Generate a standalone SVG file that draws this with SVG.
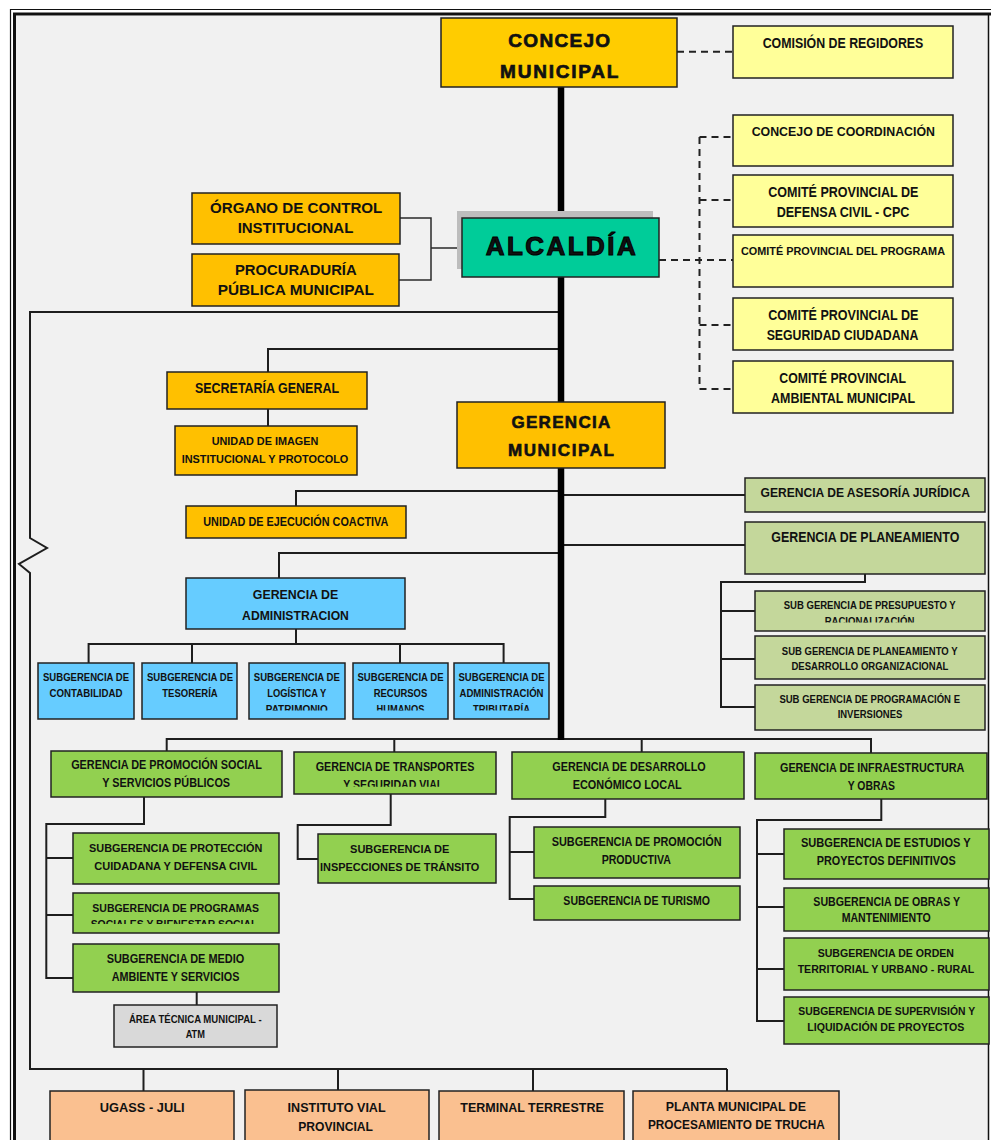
<svg xmlns="http://www.w3.org/2000/svg" width="991" height="1140" viewBox="0 0 991 1140">
<style>
text{font-family:"Liberation Sans",Arial,sans-serif;font-weight:bold;fill:#111;text-anchor:middle}
.bx{stroke:#222;stroke-width:1.5}
.ln{fill:none;stroke:#1e1e1e;stroke-width:2}
.lt{fill:none;stroke:#2a2a2a;stroke-width:1.5}
.ds{fill:none;stroke:#222;stroke-width:2;stroke-dasharray:7 5}
.big{font-size:19px;stroke:#111;stroke-width:0.7}
.gm{font-size:17px;stroke:#111;stroke-width:0.6}
.alc{font-size:26px;stroke:#000;stroke-width:1}
.f15{font-size:15px}
.f14{font-size:14px}
.f135{font-size:13.5px}
.f13{font-size:13px}
.f125{font-size:12.5px}
.f12{font-size:12px}
.f115{font-size:11.5px}
.f11{font-size:11px}
.f10{font-size:10px}
.gold{fill:#FFC000}
.yel{fill:#FFFF99}
.olv{fill:#C4D79B}
.blu{fill:#66CCFF}
.grn{fill:#92D050}
.pch{fill:#FAC090}
</style>
<defs>
<clipPath id="c1"><rect x="755" y="591" width="230" height="31.5"/></clipPath>
<clipPath id="c2"><rect x="30" y="663" width="530" height="47.5"/></clipPath>
<clipPath id="c3"><rect x="294" y="752" width="202" height="34.7"/></clipPath>
<clipPath id="c4"><rect x="73" y="893" width="206" height="31"/></clipPath>
</defs>
<rect width="991" height="1140" fill="#ffffff"/>
<rect x="16" y="16" width="973" height="1124" fill="#F1F1F1"/>
<g id="frame" fill="none" stroke="#111">
<path d="M10.5,1140 V9.5 H991" stroke-width="1.2"/>
<path d="M14.5,1140 V14 H991" stroke-width="3"/>
<path d="M988.5,15 V1140" stroke-width="1.5"/>
</g>

<g id="connectors">
<path class="ds" d="M677,51.7 H733"/>
<path class="ds" d="M659,260 H733 M699.5,137 V389 M699.5,137 H733 M699.5,200 H733 M699.5,325 H733 M699.5,389 H733"/>
<path class="lt" d="M400,218 H431 V280 H399 M431,248 H462"/>
<path class="ln" d="M561,312 H30 V538 L47,548 L19,564 L30,573 V1069 H727 M143.5,1069 V1091 M338,1069 V1090 M533,1069 V1091 M727,1069 V1091"/>
<path class="ln" d="M561,349 H268 V372 M268,409 V426"/>
<path class="ln" d="M561,491 H296 V506"/>
<path class="ln" d="M561,553 H279 V578 M296,629 V644 M88.6,663 V644 H503.6 V663 M192,644 V663 M400,644 V663"/>
<path class="ln" d="M561,495 H745 M561,545 H745 M865,574 V582 H721 V707 H755 M721,611 H755 M721,659 H755"/>
<path class="ln" d="M166.7,751 V739 H871 V753 M394.3,739 V752 M641.7,739 V752"/>
<path class="ln" d="M144,797 V824 H46.3 V978 H73 M46.3,858 H73 M46.3,915 H73 M196.7,992 V1005"/>
<path class="ln" d="M390.7,794 V825 H297.7 V859 H318"/>
<path class="ln" d="M605.3,799 V817 H509.7 V899 H534 M509.7,852 H534"/>
<path class="ln" d="M881.3,799 V820 H757 V1021 H784 M757,854 H784 M757,907 H784 M757,969 H784"/>
<path d="M561,87 V740" stroke="#000" stroke-width="6.5" fill="none"/>
</g>

<g id="concejo-municipal">
<rect class="bx" x="441" y="18" width="236" height="69" fill="#FFCC00"/>
<text class="big" x="559.2" y="47" textLength="101.7">CONCEJO</text>
<text class="big" x="559.2" y="77.7" textLength="118.3">MUNICIPAL</text>
</g>
<g id="comision-regidores">
<rect class="bx yel" x="733" y="26" width="220" height="52"/>
<text class="f14" x="843" y="48" textLength="160.7" lengthAdjust="spacingAndGlyphs">COMISIÓN DE REGIDORES</text>
</g>
<g id="concejo-coordinacion">
<rect class="bx yel" x="733" y="115" width="220" height="51"/>
<text class="f135" x="843.3" y="136" textLength="183.3" lengthAdjust="spacingAndGlyphs">CONCEJO DE COORDINACIÓN</text>
</g>
<g id="comite-defensa-civil">
<rect class="bx yel" x="733" y="175" width="220" height="52"/>
<text class="f14" x="843.3" y="196.7" textLength="150" lengthAdjust="spacingAndGlyphs">COMITÉ PROVINCIAL DE</text>
<text class="f14" x="843" y="216.7" textLength="132.7" lengthAdjust="spacingAndGlyphs">DEFENSA CIVIL - CPC</text>
</g>
<g id="comite-programa">
<rect class="bx yel" x="733" y="235" width="220" height="52"/>
<text class="f11" style="font-size:11.3px" x="843" y="255" textLength="204" lengthAdjust="spacingAndGlyphs">COMITÉ PROVINCIAL DEL PROGRAMA</text>
</g>
<g id="comite-seguridad">
<rect class="bx yel" x="733" y="298" width="220" height="52"/>
<text class="f14" x="843.3" y="320" textLength="150" lengthAdjust="spacingAndGlyphs">COMITÉ PROVINCIAL DE</text>
<text class="f14" x="842.5" y="340" textLength="151.7" lengthAdjust="spacingAndGlyphs">SEGURIDAD CIUDADANA</text>
</g>
<g id="comite-ambiental">
<rect class="bx yel" x="733" y="361" width="220" height="52"/>
<text class="f14" x="842.7" y="383" textLength="126.7" lengthAdjust="spacingAndGlyphs">COMITÉ PROVINCIAL</text>
<text class="f14" x="843" y="403" textLength="144" lengthAdjust="spacingAndGlyphs">AMBIENTAL MUNICIPAL</text>
</g>

<g id="organo-control">
<rect class="bx gold" x="192" y="193" width="208" height="51"/>
<text class="f15" x="296.2" y="213.3" textLength="172.3" lengthAdjust="spacingAndGlyphs">ÓRGANO DE CONTROL</text>
<text class="f15" x="295.5" y="233.3" textLength="115.7" lengthAdjust="spacingAndGlyphs">INSTITUCIONAL</text>
</g>
<g id="procuraduria">
<rect class="bx gold" x="192" y="254" width="207" height="52"/>
<text class="f15" x="295.8" y="275" textLength="121.7" lengthAdjust="spacingAndGlyphs">PROCURADURÍA</text>
<text class="f15" x="295.8" y="295" textLength="156.3" lengthAdjust="spacingAndGlyphs">PÚBLICA MUNICIPAL</text>
</g>
<g id="alcaldia">
<rect x="457" y="211" width="196" height="58" fill="#BDBDBD"/>
<rect class="bx" x="462" y="218" width="197" height="59" fill="#00CC99"/>
<text class="alc" x="560.8" y="255" textLength="150">ALCALDÍA</text>
</g>

<g id="secretaria-general">
<rect class="bx gold" x="167" y="372" width="200" height="37"/>
<text class="f14" x="267" y="393.3" textLength="144" lengthAdjust="spacingAndGlyphs">SECRETARÍA GENERAL</text>
</g>
<g id="unidad-imagen">
<rect class="bx gold" x="175" y="426" width="182" height="49"/>
<text class="f115" x="265" y="445" textLength="106.7" lengthAdjust="spacingAndGlyphs">UNIDAD DE IMAGEN</text>
<text class="f115" x="265" y="462.7" textLength="166.7" lengthAdjust="spacingAndGlyphs">INSTITUCIONAL Y PROTOCOLO</text>
</g>
<g id="unidad-ejecucion">
<rect class="bx gold" x="186" y="506" width="220" height="32"/>
<text class="f12" x="295.8" y="525.7" textLength="185" lengthAdjust="spacingAndGlyphs">UNIDAD DE EJECUCIÓN COACTIVA</text>
</g>
<g id="gerencia-municipal">
<rect class="bx gold" x="457" y="402" width="208" height="66"/>
<text class="gm" x="560.9" y="428.3" textLength="99">GERENCIA</text>
<text class="gm" x="560.9" y="456" textLength="106">MUNICIPAL</text>
</g>

<g id="gerencia-asesoria">
<rect class="bx olv" x="745" y="478" width="240" height="34"/>
<text class="f13" x="865.2" y="497.3" textLength="209.4" lengthAdjust="spacingAndGlyphs">GERENCIA DE ASESORÍA JURÍDICA</text>
</g>
<g id="gerencia-planeamiento">
<rect class="bx olv" x="745" y="522" width="240" height="52"/>
<text class="f14" x="865.3" y="542.3" textLength="188" lengthAdjust="spacingAndGlyphs">GERENCIA DE PLANEAMIENTO</text>
</g>
<g id="sub-presupuesto">
<rect class="bx olv" x="755" y="591" width="230" height="40"/>
<text class="f115" x="869.7" y="609.3" textLength="172" lengthAdjust="spacingAndGlyphs">SUB GERENCIA DE PRESUPUESTO Y</text>
<text class="f115" x="869.5" y="624.5" textLength="89.6" lengthAdjust="spacingAndGlyphs" clip-path="url(#c1)">RACIONALIZACIÓN</text>
</g>
<g id="sub-planeamiento">
<rect class="bx olv" x="755" y="636" width="230" height="43"/>
<text class="f11" x="869.7" y="655" textLength="175.7" lengthAdjust="spacingAndGlyphs">SUB GERENCIA DE PLANEAMIENTO Y</text>
<text class="f115" x="869.9" y="670" textLength="157" lengthAdjust="spacingAndGlyphs">DESARROLLO ORGANIZACIONAL</text>
</g>
<g id="sub-programacion">
<rect class="bx olv" x="755" y="685" width="230" height="45"/>
<text class="f11" x="869.7" y="703.3" textLength="180.6" lengthAdjust="spacingAndGlyphs">SUB GERENCIA DE PROGRAMACIÓN E</text>
<text class="f115" x="870" y="718.3" textLength="64.7" lengthAdjust="spacingAndGlyphs">INVERSIONES</text>
</g>

<g id="gerencia-administracion">
<rect class="bx blu" x="186" y="578" width="219" height="51"/>
<text class="f13" x="295.5" y="599.3" textLength="85.4" lengthAdjust="spacingAndGlyphs">GERENCIA DE</text>
<text class="f13" x="295.5" y="620" textLength="106.8" lengthAdjust="spacingAndGlyphs">ADMINISTRACION</text>
</g>
<g id="sub-contabilidad">
<rect class="bx blu" x="38" y="663" width="96" height="56"/>
<text class="f10" x="86" y="681" textLength="86" lengthAdjust="spacingAndGlyphs">SUBGERENCIA DE</text>
<text class="f10" x="86" y="696.7" textLength="72.9" lengthAdjust="spacingAndGlyphs">CONTABILIDAD</text>
</g>
<g id="sub-tesoreria">
<rect class="bx blu" x="142" y="663" width="95" height="56"/>
<text class="f10" x="190" y="681" textLength="86" lengthAdjust="spacingAndGlyphs">SUBGERENCIA DE</text>
<text class="f10" x="190" y="696.7" textLength="55.4" lengthAdjust="spacingAndGlyphs">TESORERÍA</text>
</g>
<g id="sub-logistica">
<rect class="bx blu" x="249" y="663" width="96" height="56"/>
<text class="f10" x="296.8" y="681" textLength="86" lengthAdjust="spacingAndGlyphs">SUBGERENCIA DE</text>
<text class="f10" x="296.8" y="696.7" textLength="59" lengthAdjust="spacingAndGlyphs">LOGÍSTICA Y</text>
<text class="f10" x="296.8" y="713" textLength="62" lengthAdjust="spacingAndGlyphs" clip-path="url(#c2)">PATRIMONIO</text>
</g>
<g id="sub-recursos-humanos">
<rect class="bx blu" x="353" y="663" width="95" height="56"/>
<text class="f10" x="400.5" y="681" textLength="86" lengthAdjust="spacingAndGlyphs">SUBGERENCIA DE</text>
<text class="f10" x="400.5" y="696.7" textLength="53.6" lengthAdjust="spacingAndGlyphs">RECURSOS</text>
<text class="f10" x="400.5" y="713" textLength="48" lengthAdjust="spacingAndGlyphs" clip-path="url(#c2)">HUMANOS</text>
</g>
<g id="sub-administracion-tributaria">
<rect class="bx blu" x="454" y="663" width="95" height="56"/>
<text class="f10" x="501.5" y="681" textLength="86" lengthAdjust="spacingAndGlyphs">SUBGERENCIA DE</text>
<text class="f10" x="501.5" y="696.7" textLength="84" lengthAdjust="spacingAndGlyphs">ADMINISTRACIÓN</text>
<text class="f10" x="501.5" y="713" textLength="57" lengthAdjust="spacingAndGlyphs" clip-path="url(#c2)">TRIBUTARÍA</text>
</g>

<g id="gerencia-promocion-social">
<rect class="bx grn" x="51" y="751" width="231" height="46"/>
<text class="f12" x="166.5" y="769.3" textLength="190.7" lengthAdjust="spacingAndGlyphs">GERENCIA DE PROMOCIÓN SOCIAL</text>
<text class="f12" x="166.2" y="787.3" textLength="127.7" lengthAdjust="spacingAndGlyphs">Y SERVICIOS PÚBLICOS</text>
</g>
<g id="sub-proteccion">
<rect class="bx grn" x="73" y="833" width="206" height="51"/>
<text class="f115" x="175.7" y="852.3" textLength="173.3" lengthAdjust="spacingAndGlyphs">SUBGERENCIA DE PROTECCIÓN</text>
<text class="f115" x="175.8" y="870" textLength="163" lengthAdjust="spacingAndGlyphs">CUIDADANA Y DEFENSA CIVIL</text>
</g>
<g id="sub-programas-sociales">
<rect class="bx grn" x="73" y="893" width="206" height="40"/>
<text class="f115" x="175.7" y="911.7" textLength="166.7" lengthAdjust="spacingAndGlyphs">SUBGERENCIA DE PROGRAMAS</text>
<text class="f115" x="174" y="928" textLength="166.7" lengthAdjust="spacingAndGlyphs" clip-path="url(#c4)">SOCIALES Y BIENESTAR SOCIAL</text>
</g>
<g id="sub-medio-ambiente">
<rect class="bx grn" x="73" y="944" width="206" height="48"/>
<text class="f12" x="175.5" y="963.3" textLength="137.7" lengthAdjust="spacingAndGlyphs">SUBGERENCIA DE MEDIO</text>
<text class="f12" x="175.5" y="980.7" textLength="127.7" lengthAdjust="spacingAndGlyphs">AMBIENTE Y SERVICIOS</text>
</g>
<g id="area-tecnica">
<rect class="bx" x="114" y="1005" width="163" height="42" fill="#D9D9D9"/>
<text class="f11" x="195.3" y="1022.7" textLength="132.7" lengthAdjust="spacingAndGlyphs">ÁREA TÉCNICA MUNICIPAL -</text>
<text class="f11" x="195.3" y="1038.3" textLength="19.3" lengthAdjust="spacingAndGlyphs">ATM</text>
</g>

<g id="gerencia-transportes">
<rect class="bx grn" x="294" y="752" width="202" height="42"/>
<text class="f12" x="395" y="770.7" textLength="158.7" lengthAdjust="spacingAndGlyphs">GERENCIA DE TRANSPORTES</text>
<text class="f12" x="393.3" y="789" textLength="100" lengthAdjust="spacingAndGlyphs" clip-path="url(#c3)">Y SEGURIDAD VIAL</text>
</g>
<g id="sub-inspecciones">
<rect class="bx grn" x="318" y="834" width="178" height="49"/>
<text class="f115" x="399.7" y="852.7" textLength="99.3" lengthAdjust="spacingAndGlyphs">SUBGERENCIA DE</text>
<text class="f115" x="399.7" y="870.7" textLength="159.3" lengthAdjust="spacingAndGlyphs">INSPECCIONES DE TRÁNSITO</text>
</g>

<g id="gerencia-desarrollo">
<rect class="bx grn" x="512" y="752" width="232" height="47"/>
<text class="f12" x="629" y="771" textLength="153.3" lengthAdjust="spacingAndGlyphs">GERENCIA DE DESARROLLO</text>
<text class="f12" x="627.2" y="789" textLength="109" lengthAdjust="spacingAndGlyphs">ECONÓMICO LOCAL</text>
</g>
<g id="sub-promocion-productiva">
<rect class="bx grn" x="534" y="827" width="206" height="51"/>
<text class="f12" x="636.7" y="846.3" textLength="170" lengthAdjust="spacingAndGlyphs">SUBGERENCIA DE PROMOCIÓN</text>
<text class="f12" x="636.3" y="864" textLength="69.3" lengthAdjust="spacingAndGlyphs">PRODUCTIVA</text>
</g>
<g id="sub-turismo">
<rect class="bx grn" x="534" y="886" width="206" height="34"/>
<text class="f12" x="636.7" y="905" textLength="146.7" lengthAdjust="spacingAndGlyphs">SUBGERENCIA DE TURISMO</text>
</g>

<g id="gerencia-infraestructura">
<rect class="bx grn" x="755" y="753" width="232" height="46"/>
<text class="f12" x="872.2" y="772" textLength="184.3" lengthAdjust="spacingAndGlyphs">GERENCIA DE INFRAESTRUCTURA</text>
<text class="f12" x="871.3" y="790" textLength="47.3" lengthAdjust="spacingAndGlyphs">Y OBRAS</text>
</g>
<g id="sub-estudios">
<rect class="bx grn" x="784" y="829" width="205" height="50"/>
<text class="f12" x="885.8" y="847.3" textLength="169.7" lengthAdjust="spacingAndGlyphs">SUBGERENCIA DE ESTUDIOS Y</text>
<text class="f12" x="886.2" y="865" textLength="139" lengthAdjust="spacingAndGlyphs">PROYECTOS DEFINITIVOS</text>
</g>
<g id="sub-obras">
<rect class="bx grn" x="784" y="888" width="205" height="43"/>
<text class="f12" x="886.7" y="905.7" textLength="146.7" lengthAdjust="spacingAndGlyphs">SUBGERENCIA DE OBRAS Y</text>
<text class="f12" x="886.2" y="921.7" textLength="89" lengthAdjust="spacingAndGlyphs">MANTENIMIENTO</text>
</g>
<g id="sub-orden">
<rect class="bx grn" x="784" y="938" width="205" height="52"/>
<text class="f11" x="885.8" y="956.7" textLength="136.3" lengthAdjust="spacingAndGlyphs">SUBGERENCIA DE ORDEN</text>
<text class="f11" x="886" y="973.3" textLength="176.7" lengthAdjust="spacingAndGlyphs">TERRITORIAL Y URBANO - RURAL</text>
</g>
<g id="sub-supervision">
<rect class="bx grn" x="784" y="997" width="205" height="47"/>
<text class="f11" x="886.7" y="1015" textLength="176.7" lengthAdjust="spacingAndGlyphs">SUBGERENCIA DE SUPERVISIÓN Y</text>
<text class="f11" x="885.8" y="1031" textLength="157" lengthAdjust="spacingAndGlyphs">LIQUIDACIÓN DE PROYECTOS</text>
</g>

<g id="ugass-juli">
<rect class="bx pch" x="50" y="1091" width="184" height="60"/>
<text class="f13" x="142.2" y="1111.7" textLength="84.7" lengthAdjust="spacingAndGlyphs">UGASS - JULI</text>
</g>
<g id="instituto-vial">
<rect class="bx pch" x="245" y="1090" width="184" height="60"/>
<text class="f13" x="336.6" y="1111.7" textLength="98" lengthAdjust="spacingAndGlyphs">INSTITUTO VIAL</text>
<text class="f13" x="335.6" y="1130.7" textLength="74.6" lengthAdjust="spacingAndGlyphs">PROVINCIAL</text>
</g>
<g id="terminal-terrestre">
<rect class="bx pch" x="439" y="1091" width="185" height="60"/>
<text class="f13" x="532" y="1111.7" textLength="143.5" lengthAdjust="spacingAndGlyphs">TERMINAL TERRESTRE</text>
</g>
<g id="planta-trucha">
<rect class="bx pch" x="633" y="1091" width="206" height="60"/>
<text class="f13" x="735.8" y="1110.7" textLength="140.3" lengthAdjust="spacingAndGlyphs">PLANTA MUNICIPAL DE</text>
<text class="f13" x="736.4" y="1129.3" textLength="177" lengthAdjust="spacingAndGlyphs">PROCESAMIENTO DE TRUCHA</text>
</g>
</svg>
